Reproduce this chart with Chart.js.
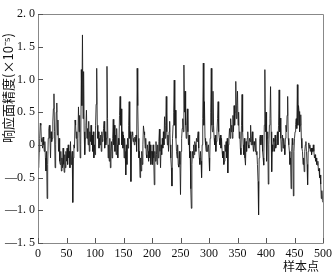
<!DOCTYPE html>
<html>
<head>
<meta charset="utf-8">
<script src="https://cdn.jsdelivr.net/npm/chart.js@4"></script>
<style>
html,body{margin:0;padding:0;background:#fff;}
#wrap{width:336px;height:273px;}
</style>
</head>
<body>
<div id="wrap"><canvas id="c" width="336" height="273"></canvas></div>
<script>
// sample values (x10^-5), index = sample point 0..500
const seg1 = [0.05,-0.35,-0.1,0.1,0.33,0.3,0.05,0.1,-0.05,0.12,0.0,-0.1,0.05,-0.2,-0.4,-0.1,-0.82,-0.3,0.1,0.25,0.3,0.1,-0.2,0.2,0.05,
 0.1,0.35,0.55,0.78,0.2,-0.35,0.0,0.5,0.64,0.15,0.38,-0.1,0.1,-0.25,-0.3,-0.1,-0.4,-0.2,-0.35,-0.05,-0.3,-0.42,-0.15,-0.35,-0.1,
 -0.25,-0.05,-0.3,0.0,-0.2,-0.1,-0.35,0.05,-0.3,-0.2,-0.1,-0.88,-0.2,0.0,-0.05,0.38,0.3,0.1,0.2,-0.1,0.1,0.58,0.2,0.45,-0.2,
 0.0,1.15,0.6,1.68,0.4,1.12,0.2,-0.15,0.1,0.3,0.53,0.1,0.25,0.0,0.36,-0.1,0.2,0.05,0.3,0.0,0.15,-0.1,0.2,-0.2,0.0];
const seg2 = [-0.15,0.3,0.62,1.17,0.3,0.1,0.2,-0.05,0.1,0.0,0.15,-0.1,0.2,0.05,0.1,0.25,0.36,-0.05,0.2,0.0,0.1,1.2,0.4,-0.2,0.0,
 -0.25,0.1,-0.35,-0.1,0.05,-0.2,0.1,0.39,0.0,0.3,-0.1,0.15,-0.15,0.25,0.0,-0.2,0.1,0.0,0.45,0.74,0.3,0.55,0.0,0.2,-0.05,
 0.15,-0.2,0.1,-0.1,-0.46,0.0,-0.3,0.1,-0.05,0.3,0.66,0.1,0.2,-0.56,0.0,0.15,0.2,0.05,0.1,0.0,0.12,0.05,0.15,-0.1,1.17,
 0.6,0.1,-0.2,-0.1,-0.5,-0.2,-0.4,-0.1,-0.3,0.0,0.29,0.2,0.15,-0.05,0.1,-0.15,-0.2,0.0,-0.1,-0.25,0.05,-0.2,0.0,-0.3,-0.1];
const seg3 = [-0.1,-0.3,0.0,-0.2,-0.61,-0.1,-0.25,0.05,-0.15,-0.3,0.0,-0.2,0.05,0.24,-0.1,-0.35,0.0,-0.15,0.1,-0.05,0.2,0.0,0.43,0.1,0.3,
 0.74,0.2,0.0,0.15,-0.1,0.2,0.36,0.0,-0.2,-0.35,-0.63,0.1,0.3,0.5,0.99,0.3,0.53,0.1,-0.1,-0.2,0.0,-0.3,-0.34,-0.1,-0.3,
 -0.76,-0.1,0.1,0.25,0.4,0.2,1.22,0.5,0.82,0.3,0.1,0.3,0.55,0.2,0.0,0.15,-0.2,-0.1,-0.67,-0.97,-0.3,-0.1,-0.2,0.0,-0.15,
 0.05,0.0,-0.1,0.1,0.05,0.12,0.2,-0.05,-0.2,-0.3,-0.1,-0.25,-0.5,0.0,0.4,1.25,0.3,0.66,0.1,0.0,-0.1,0.05,-0.1,-0.05,0.0];
const seg4 = [-0.2,-0.4,0.1,0.5,1.17,0.3,0.2,0.82,0.3,0.1,0.0,0.15,-0.1,0.05,0.2,0.4,0.66,0.2,0.1,0.0,0.15,-0.05,0.1,-0.1,-0.2,
 -0.1,-0.3,-0.25,0.0,-0.1,0.05,-0.2,0.1,-0.43,0.0,0.1,0.25,0.1,0.4,0.2,0.3,0.1,0.45,0.2,0.6,0.3,0.5,0.97,0.4,0.6,
 0.82,0.3,0.5,0.1,0.2,-0.05,-0.15,0.3,0.77,0.2,0.0,-0.15,0.1,-0.2,-0.31,0.05,-0.1,0.1,0.2,0.0,-0.05,0.1,0.05,0.3,0.0,
 0.1,0.2,0.0,-0.1,0.05,0.0,-0.1,0.1,-0.15,-0.1,-0.3,-0.56,-1.07,-0.2,0.1,0.15,0.0,0.1,0.15,-0.1,-0.2,-0.31,0.3,1.15,0.2];
const seg5 = [0.5,-0.25,0.1,0.2,-0.6,0.0,0.3,0.4,0.89,0.2,-0.41,0.0,-0.1,0.1,0.05,-0.1,0.15,-0.05,0.0,0.1,0.2,0.0,0.3,0.84,0.2,
 0.41,0.1,-0.1,0.05,0.15,-0.05,0.1,0.0,-0.15,0.1,0.3,0.2,0.45,0.74,0.1,0.0,-0.1,-0.3,-0.2,-0.67,-0.1,0.1,0.0,-0.78,-0.1,
 0.1,0.2,0.31,0.4,0.25,0.92,0.3,0.6,0.51,0.2,0.3,0.46,0.1,-0.05,-0.1,-0.3,-0.2,-0.41,-0.1,0.0,0.05,-0.1,-0.3,-0.61,-0.1,
 0.03,-0.05,0.0,-0.1,-0.05,-0.15,-0.05,-0.1,0.0,-0.1,-0.2,-0.15,-0.25,-0.2,-0.3,-0.31,-0.25,-0.4,-0.36,-0.5,-0.46,-0.6,-0.82,-0.7,-0.85,-0.88];
const values = seg1.concat(seg2, seg3, seg4, seg5);

const yTickValues = [2.0,1.5,1.0,0.5,0,-0.5,-1.0,-1.5];
const yTickLabels = ['2. 0','1. 5','1. 0','0. 5','0','\u20140. 5','\u20141. 0','\u20141. 5'];
const xTickValues = [0,50,100,150,200,250,300,350,400,450,500];
const xTitle = '样本点';
const yTitle = '响应面精度(×10⁻⁵)';

const points = values.map((v,i)=>({x:i,y:v}));

const frame = {
  id:'frame',
  afterDatasetsDraw(chart){
    const {ctx, chartArea:a, scales} = chart;
    ctx.save();
    ctx.strokeStyle = '#888';
    ctx.lineWidth = 1;
    ctx.beginPath();
    ctx.rect(Math.round(a.left)+0.5, Math.round(a.top)+0.5, Math.round(a.right-a.left), Math.round(a.bottom-a.top));
    ctx.stroke();
    // inward ticks
    ctx.strokeStyle = '#555';
    ctx.beginPath();
    yTickValues.forEach(v=>{
      const y = Math.round(scales.y.getPixelForValue(v))+0.5;
      ctx.moveTo(a.left, y); ctx.lineTo(a.left+5, y);
    });
    xTickValues.forEach(v=>{
      const x = Math.round(scales.x.getPixelForValue(v))+0.5;
      ctx.moveTo(x, a.bottom); ctx.lineTo(x, a.bottom-5);
    });
    ctx.stroke();
    // titles
    ctx.fillStyle = '#111';
    ctx.font = '12px "Noto Sans CJK SC"';
    ctx.textAlign = 'right';
    ctx.textBaseline = 'middle';
    ctx.fillText(xTitle, 319, 266);
    ctx.font = '13px "Noto Sans CJK SC"';
    ctx.translate(8, 88);
    ctx.rotate(-Math.PI/2);
    ctx.textAlign = 'center';
    ctx.fillText(yTitle, 0, 0);
    ctx.restore();
  }
};

new Chart(document.getElementById('c'), {
  type:'line',
  data:{datasets:[{data:points, borderColor:'#1a1a1a', borderWidth:0.85, pointRadius:0, tension:0, fill:false}]},
  options:{
    responsive:false, animation:false,
    layout:{padding:{left:0,right:7,top:14,bottom:0}},
    plugins:{legend:{display:false}, tooltip:{enabled:false}},
    scales:{
      x:{type:'linear', min:0, max:500,
        grid:{display:false, drawTicks:false}, border:{display:false},
        afterFit(s){ s.height = 30; },
        afterBuildTicks(s){ s.ticks = xTickValues.map(v=>({value:v})); },
        ticks:{padding:4, color:'#111', maxRotation:0, autoSkip:false,
          font:{family:'"Liberation Serif"', size:12},
          callback:(v)=>String(v)}
      },
      y:{min:-1.5, max:2.0,
        grid:{display:false, drawTicks:false}, border:{display:false},
        afterFit(s){ s.width = 38; },
        afterBuildTicks(s){ s.ticks = yTickValues.map(v=>({value:v})); },
        ticks:{padding:3, color:'#111', autoSkip:false,
          font:{family:'"Liberation Serif"', size:12},
          callback:(v)=>{ const i = yTickValues.indexOf(v); return i>=0 ? yTickLabels[i] : ''; }}
      }
    }
  },
  plugins:[frame]
});
</script>
</body>
</html>
